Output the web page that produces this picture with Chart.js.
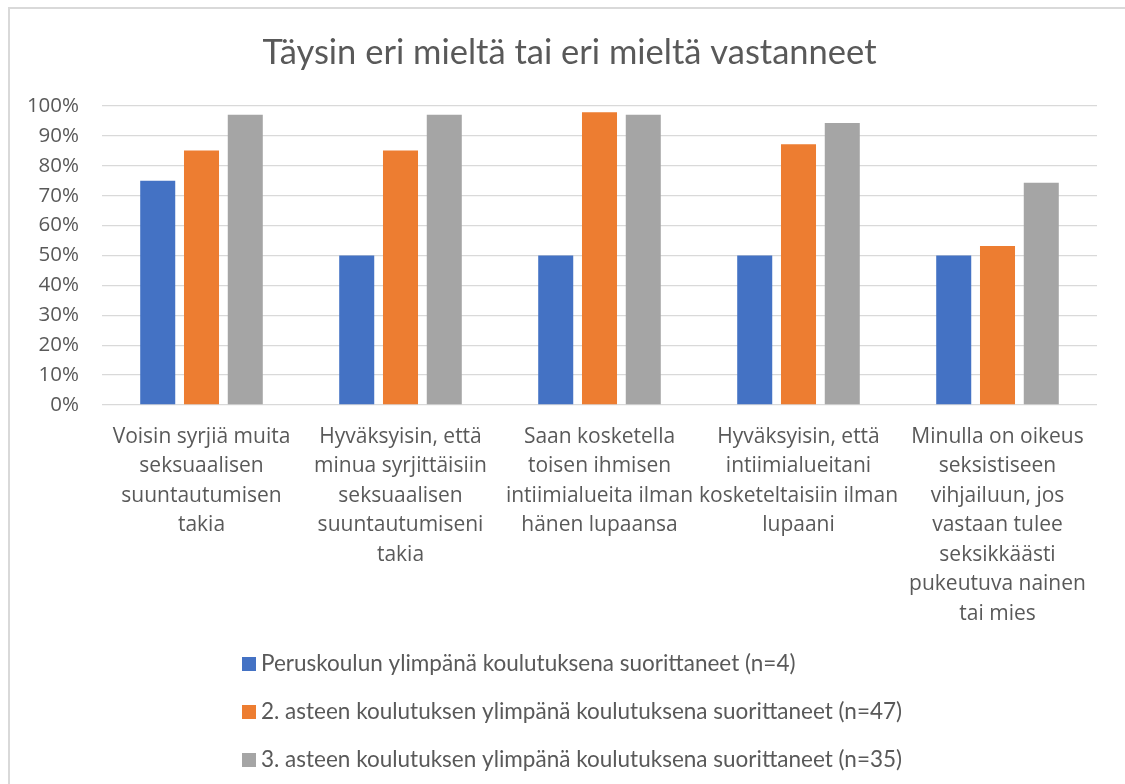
<!DOCTYPE html>
<html lang="fi">
<head>
    <meta charset="UTF-8">
    <title>Täysin eri mieltä tai eri mieltä vastanneet</title>
    <style>
        html, body { margin: 0; padding: 0; background: #fff; overflow: hidden; }
        #wrap { position: relative; width: 1125px; height: 784px; overflow: hidden; }
        .line { position: absolute; background: #d9d9d9; }
        #topLine { left: 8px; top: 7px; width: 1117px; height: 2px; }
        #leftLine { left: 8px; top: 7px; width: 2px; height: 777px; }
        #chart { position: absolute; left: 0; top: 0; }
    </style>
</head>
<body>
<div id="wrap">
    <div class="line" id="topLine"></div>
    <div class="line" id="leftLine"></div>
    <canvas id="chart" width="1125" height="784"></canvas>
</div>
<script src="https://cdn.jsdelivr.net/npm/chart.js"></script>
<script>
    // kategoriat (rivitetty kuten alkuperäisessä)
    const categories = [
        ['Voisin syrjiä muita', 'seksuaalisen', 'suuntautumisen', 'takia'],
        ['Hyväksyisin, että', 'minua syrjittäisiin', 'seksuaalisen', 'suuntautumiseni', 'takia'],
        ['Saan kosketella', 'toisen ihmisen', 'intiimialueita ilman', 'hänen lupaansa'],
        ['Hyväksyisin, että', 'intiimialueitani', 'kosketeltaisiin ilman', 'lupaani'],
        ['Minulla on oikeus', 'seksistiseen', 'vihjailuun, jos', 'vastaan tulee', 'seksikkäästi', 'pukeutuva nainen', 'tai mies']
    ];
    const seriesNames = [
        'Peruskoulun ylimpänä koulutuksena suorittaneet (n=4)',
        '2. asteen koulutuksen ylimpänä koulutuksena suorittaneet (n=47)',
        '3. asteen koulutuksen ylimpänä koulutuksena suorittaneet (n=35)'
    ];
    const peruskoulu = [75, 50, 50, 50, 50];
    const toinenAste = [85.1, 85.1, 97.9, 87.2, 53.2];
    const kolmasAste = [97.1, 97.1, 97.1, 94.3, 74.3];
    const colors = ['#4472C4', '#ED7D31', '#A5A5A5'];
    const chartTitle = 'Täysin eri mieltä tai eri mieltä vastanneet';

    const textColor = '#595959';
    const narrowFont = 'Lato, "Open Sans", sans-serif';
    const wideFont = '"Open Sans", Lato, sans-serif';

    // otsikko ja legenda piirretään itse (legendassa yksi rivi per sarja)
    const titleLegendPlugin = {
        id: 'titleLegend',
        afterDraw(chart) {
            const ctx = chart.ctx;
            ctx.save();
            ctx.fillStyle = textColor;
            ctx.font = '34.5px ' + narrowFont;
            ctx.textAlign = 'center';
            ctx.textBaseline = 'middle';
            ctx.fillText(chartTitle, 569.5, 52.7);

            ctx.font = '22.5px ' + narrowFont;
            ctx.textAlign = 'left';
            chart.data.datasets.forEach((ds, i) => {
                const y = 664 + i * 48;
                ctx.fillStyle = ds.backgroundColor;
                ctx.fillRect(242, y - 7, 14, 14);
                ctx.fillStyle = textColor;
                ctx.fillText(ds.label, 261, y);
            });
            ctx.restore();
        }
    };

    const ctx = document.getElementById('chart').getContext('2d');
    new Chart(ctx, {
        type: 'bar',
        data: {
            labels: categories,
            datasets: [
                { label: seriesNames[0], data: peruskoulu, backgroundColor: colors[0] },
                { label: seriesNames[1], data: toinenAste, backgroundColor: colors[1] },
                { label: seriesNames[2], data: kolmasAste, backgroundColor: colors[2] }
            ]
        },
        options: {
            responsive: false,
            animation: false,
            layout: { padding: { left: 0, right: 28, top: 106, bottom: 0 } },
            datasets: {
                bar: { categoryPercentage: 0.66, barPercentage: 0.8 }
            },
            plugins: {
                legend: { display: false },
                tooltip: { enabled: false },
                title: { display: false }
            },
            scales: {
                x: {
                    grid: { display: false },
                    border: { display: false },
                    ticks: {
                        color: textColor,
                        font: { family: wideFont, size: 21, lineHeight: 1.405 },
                        padding: 9,
                        maxRotation: 0,
                        autoSkip: false
                    },
                    afterFit(scale) { scale.height = 784 - 405; }
                },
                y: {
                    min: 0,
                    max: 100,
                    border: { display: false },
                    grid: { color: '#d9d9d9', lineWidth: 1.3, drawTicks: false },
                    ticks: {
                        stepSize: 10,
                        color: textColor,
                        font: { family: wideFont, size: 20.5 },
                        padding: 23,
                        callback: v => v + '%'
                    },
                    afterFit(scale) { scale.width = 102; }
                }
            }
        },
        plugins: [titleLegendPlugin]
    });
</script>
</body>
</html>
